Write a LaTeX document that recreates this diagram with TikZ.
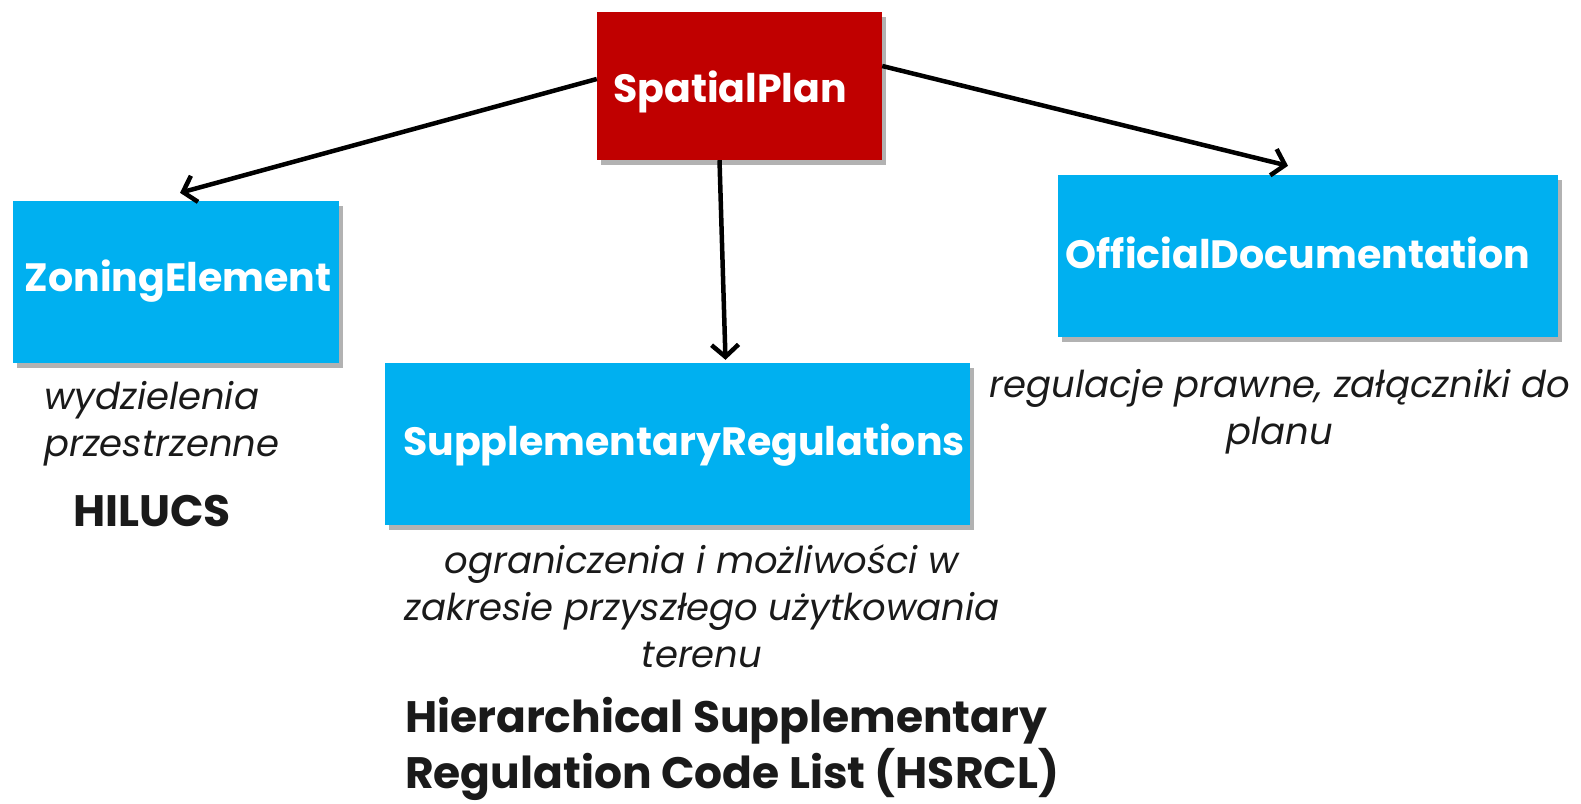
\documentclass[tikz,border=0pt]{standalone}
\usepackage{fontspec}
\setmainfont{Poppins}
\usetikzlibrary{shadows,arrows.meta}
\definecolor{planred}{HTML}{C00000}
\definecolor{classblue}{HTML}{00B0F0}
\definecolor{ink}{HTML}{1A1A1A}
\tikzset{
  box/.style={rectangle, inner sep=0pt, draw=none,
    drop shadow={shadow xshift=4pt, shadow yshift=-5pt, opacity=0.3, fill=black}},
  boxlabel/.style={text=white, font=\fontsize{39.5}{44}\selectfont\bfseries, inner sep=0pt},
  note/.style={text=ink, font=\fontsize{37}{47}\selectfont\itshape, inner sep=0pt},
  codelist/.style={text=ink, font=\fontsize{44}{56}\selectfont\bfseries, inner sep=0pt},
  link/.style={draw=black, line width=4.5pt, -{Straight Barb[length=12pt,width=27pt,line width=4.5pt]}},
}
\begin{document}
\begin{tikzpicture}[x=1pt, y=-1pt]
\useasboundingbox (0,0) rectangle (1581,803);
% class boxes
\node[box, fill=planred, minimum width=285pt, minimum height=148pt] (sp) at (739.5,86) {};
\node[box, fill=classblue, minimum width=326pt, minimum height=162pt] (ze) at (176,282) {};
\node[box, fill=classblue, minimum width=585pt, minimum height=162pt] (sr) at (677.5,444) {};
\node[box, fill=classblue, minimum width=500pt, minimum height=162pt] (od) at (1308,256) {};
% box titles
\node[boxlabel] (spt) at (730,92) {SpatialPlan};
\node[boxlabel] (zet) at (178,281) {ZoningElement};
\node[boxlabel] (srt) at (684,445) {SupplementaryRegulations};
\node[boxlabel] (odt) at (1298,253) {OfficialDocumentation};
% associations
\draw[link] ([yshift=7pt]sp.west) -- ([xshift=4pt,yshift=8pt]ze.north);
\draw[link] ([xshift=-20pt]sp.south) -- ([xshift=48pt,yshift=3pt]sr.north);
\draw[link] ([yshift=20pt]sp.east) -- ([xshift=-20pt,yshift=9pt]od.north);
% descriptions
\node[note, align=left, anchor=north west] (zen) at (44,381) {wydzielenia\\przestrzenne};
\node[codelist, anchor=west] (hil) at (73,511) {HILUCS};
\node[note, align=center] (srn) at (702,606) {ograniczenia i możliwości w\\zakresie przyszłego użytkowania\\terenu};
\node[codelist, align=left, anchor=north west] (hsr) at (405,697) {Hierarchical Supplementary\\Regulation Code List (HSRCL)};
\node[note, align=center, anchor=north] (odn) at (1280,369) {regulacje prawne, załączniki do\\planu};
\end{tikzpicture}
\end{document}
